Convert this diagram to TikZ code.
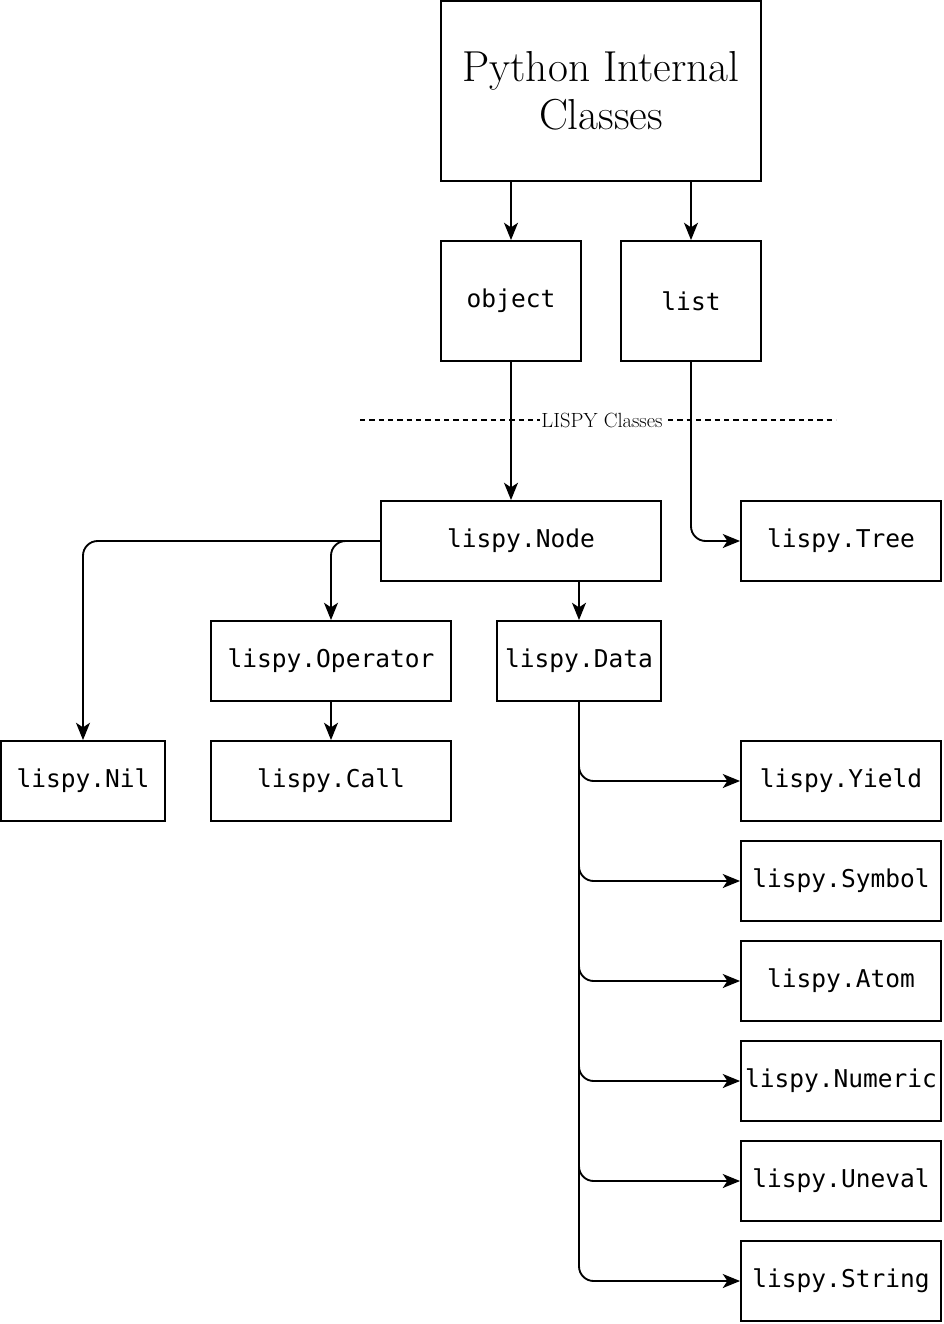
\documentclass[tikz,border=0pt]{standalone}
\usepackage{fontspec}
\setmonofont{DejaVu Sans Mono}
\usetikzlibrary{arrows.meta}
\begin{document}
\begin{tikzpicture}[x=0.75pt,y=-0.75pt,
  line width=1.4pt,
  >={Stealth[length=13pt,width=10.5pt,inset=3.5pt]},
  box/.style={draw,rectangle,inner sep=0pt,line width=1.4pt,font=\fontsize{18.4}{21}\ttfamily},
  conn/.style={->,rounded corners=11pt},
]
\useasboundingbox (0,0) rectangle (944,1324);
\node[box,minimum width=240pt,minimum height=135pt,align=center,font=\fontsize{32.5}{36}\selectfont] (py) at (601,91) {Python Internal\\Classes};
\node[box,minimum width=105pt,minimum height=90pt] (obj) at (511,301) {object};
\node[box,minimum width=105pt,minimum height=90pt] (lst) at (691,301) {list};
\node[box,minimum width=210pt,minimum height=60pt] (nd) at (521,541) {lispy.Node};
\node[box,minimum width=150pt,minimum height=60pt] (tree) at (841,541) {lispy.Tree};
\node[box,minimum width=180pt,minimum height=60pt] (op) at (331,661) {lispy.Operator};
\node[box,minimum width=123pt,minimum height=60pt] (data) at (579,661) {lispy.Data};
\node[box,minimum width=123pt,minimum height=60pt] (nil) at (83,781) {lispy.Nil};
\node[box,minimum width=180pt,minimum height=60pt] (call) at (331,781) {lispy.Call};
\node[box,minimum width=150pt,minimum height=60pt] (yield) at (841,781) {lispy.Yield};
\node[box,minimum width=150pt,minimum height=60pt] (sym) at (841,881) {lispy.Symbol};
\node[box,minimum width=150pt,minimum height=60pt] (atom) at (841,981) {lispy.Atom};
\node[box,minimum width=150pt,minimum height=60pt] (num) at (841,1081) {lispy.Numeric};
\node[box,minimum width=150pt,minimum height=60pt] (unev) at (841,1181) {lispy.Uneval};
\node[box,minimum width=150pt,minimum height=60pt] (str) at (841,1281) {lispy.String};
% separator
\coordinate (sepL) at (360,420);
\coordinate (sepR) at (836,420);
\draw[dashed,line width=1pt,dash pattern=on 4pt off 3pt] (sepL) -- (sepR);
% connectors
\draw[conn] (py.south -| obj) -- (obj.north);
\draw[conn] (py.south -| lst) -- (lst.north);
\draw[conn] (obj.south) -- (obj.south |- nd.north);
\draw[conn] (lst.south) |- (tree.west);
\draw[conn] (nd.west) -| (nil.north);
\draw[conn] (nd.west) -| (op.north);
\coordinate (nstub) at (591,581);
\draw[->] (nstub) -| (data.north);
\draw[conn] (op.south) -- (call.north);
\draw[conn] (data.south) |- (yield.west);
\draw[conn] (data.south) |- (sym.west);
\draw[conn] (data.south) |- (atom.west);
\draw[conn] (data.south) |- (num.west);
\draw[conn] (data.south) |- (unev.west);
\draw[conn] (data.south) |- (str.west);
\node[fill=white,inner sep=1pt,font=\fontsize{15.4}{18}\selectfont] (lbl) at (602,420) {LISPY Classes};
\end{tikzpicture}
\end{document}
